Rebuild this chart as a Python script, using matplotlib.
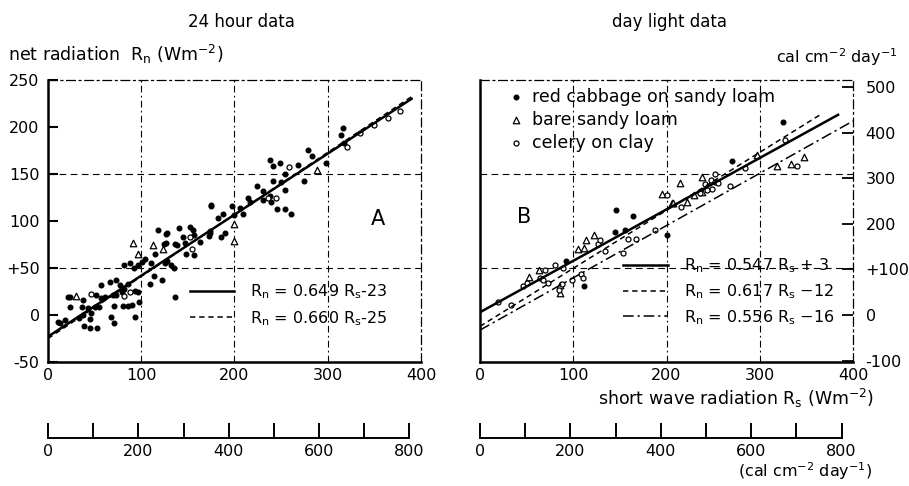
import numpy as np
import matplotlib
matplotlib.use("Agg")
import matplotlib.pyplot as plt

plt.rcParams['font.family'] = ['DejaVu Sans']
plt.rcParams['mathtext.default'] = 'regular'

W2CAL = 86400 / 41868.0  # W m-2 -> cal cm-2 day-1

# ---------------- data: 24 hour data (left panel) ----------------
left_filled_rs = [175, 118, 128, 141, 152, 127, 138, 147, 157, 163, 174, 148, 157, 115, 104,
                  101, 82, 88, 92, 97, 111, 125, 128, 132, 135, 114, 109, 122, 136, 57,
                  66, 73, 77, 86, 82, 79, 93, 97, 21, 24, 38, 52, 57, 61, 70,
                  73, 24, 36, 43, 50, 55, 71, 80, 86, 90, 98, 46, 38, 68, 93,
                  45, 71, 13, 39, 45, 53, 33, 11, 18,
                  316, 314, 317, 279, 283, 298, 275, 268, 254, 238, 241, 249, 241, 250, 254,
                  238, 231, 224, 231, 239, 246, 254, 261, 215, 217, 206, 209, 197, 175, 188,
                  200, 182, 190, 186, 174, 173, 155, 145, 127, 124, 136]
left_filled_rn = [117, 90, 87, 93, 94, 77, 75, 77, 85, 78, 89, 65, 64, 65, 60,
                  56, 53, 55, 50, 53, 55, 55, 58, 53, 50, 42, 33, 37, 19, 32,
                  35, 37, 32, 33, 28, 25, 26, 24, 19, 19, 16, 21, 18, 19, 21,
                  21, 9, 9, 7, 9, 9, 10, 10, 10, 11, 14, 2, 0, -2, -2,
                  -4, -9, -9, -12, -14, -14, -3, -7, -5,
                  199, 192, 183, 176, 169, 162, 143, 160, 150, 165, 159, 162, 143, 142, 133,
                  127, 132, 137, 122, 120, 113, 113, 107, 124, 120, 114, 108, 116, 116, 108,
                  106, 103, 87, 83, 87, 84, 90, 83, 86, 76, 76]
left_open_rs = [46, 88, 82, 154, 152, 259, 245, 236, 321, 335, 350, 365, 378]
left_open_rn = [22, 25, 20, 70, 83, 158, 125, 125, 179, 194, 202, 210, 217]
left_tri_rs = [91, 113, 123, 97, 30, 200, 200, 288]
left_tri_rn = [77, 75, 70, 65, 20, 97, 79, 154]

left_fit_labels = ['R$_n$ = 0.649 R$_s$-23', 'R$_n$ = 0.660 R$_s$-25']
left_fit_slope = [0.649, 0.660]
left_fit_icpt = [-23, -25]
left_fit_end = [390, 390]

# ---------------- data: day light data (right panel) ----------------
series_labels = ['red cabbage on sandy loam', 'bare sandy loam', 'celery on clay']
right_cabbage_rs = [92, 111, 146, 145, 156, 164, 201, 270, 325]
right_cabbage_rn = [58, 31, 112, 88, 90, 105, 85, 164, 205]
right_bare_rs = [53, 63, 86, 86, 105, 112, 114, 122, 195, 206, 214, 297, 318, 334, 347,
                 238, 238, 229, 222, 207]
right_bare_rn = [40, 48, 32, 23, 70, 71, 80, 85, 129, 119, 140, 170, 159, 161, 168,
                 147, 131, 128, 120, 119]
right_celery_rs = [19, 33, 46, 50, 64, 68, 70, 73, 80, 89, 85, 99, 108, 110, 126,
                   129, 134, 88, 153, 159, 167, 188, 200, 268, 284, 327, 340, 252, 248, 252,
                   255, 241, 249, 243, 236, 215]
right_celery_rn = [14, 11, 31, 34, 39, 37, 48, 34, 53, 50, 27, 37, 44, 39, 76,
                   80, 68, 33, 66, 81, 81, 90, 128, 137, 156, 186, 159, 150, 144, 141,
                   140, 139, 134, 133, 130, 115]

right_fit_labels = ['R$_n$ = 0.547 R$_s$ + 3', 'R$_n$ = 0.617 R$_s$ $-$12', 'R$_n$ = 0.556 R$_s$ $-$16']
right_fit_slope = [0.547, 0.617, 0.556]
right_fit_icpt = [3, -12, -16]
right_fit_end = [384, 367, 400]

x_ticks = [0, 100, 200, 300, 400]
left_y_ticks = [-50, 0, 50, 100, 150, 200, 250]
left_y_labels = ['-50', '0', '+50', '100', '150', '200', '250']
cal_y_ticks = [-100, 0, 100, 200, 300, 400, 500]
cal_y_labels = ['-100', '0', '+100', '200', '300', '400', '500']
cal_x_ticks = [0, 200, 400, 600, 800]
cal_x_minor = [100, 300, 500, 700]

# ---------------- figure ----------------
FS = 11.5
FL = 12.5
fig = plt.figure(figsize=(9.09, 4.86), dpi=100)
axL = fig.add_axes([0.0528, 0.2551, 0.4103, 0.5802])
axR = fig.add_axes([0.5281, 0.2551, 0.4103, 0.5802])

fit_styles = ['-', (0, (3.5, 2.5)), (0, (7, 2.5, 1.5, 2.5))]
fit_widths = [1.8, 1.1, 1.1]

for ax in (axL, axR):
    ax.set_xlim(0, 400)
    ax.set_ylim(-50, 250)
    for s in ('left', 'bottom'):
        ax.spines[s].set_linewidth(1.8)
    for s in ('top', 'right'):
        ax.spines[s].set_linewidth(0.9)
        ax.spines[s].set_linestyle((0, (7, 3, 1.5, 3)))
    for v in (100, 200, 300):
        ax.axvline(v, color='k', lw=0.8, ls=(0, (6, 3, 1.5, 3)), zorder=1)
    for h in (50, 150):
        ax.axhline(h, color='k', lw=0.8, ls=(0, (6, 4)), zorder=1)
    ax.set_xticks(x_ticks)
    ax.tick_params(axis='x', length=0, pad=4, labelsize=FS)


def draw_points(ax, filled, opened, tri):
    h1 = ax.scatter(filled[0], filled[1], s=11, c='k', marker='o', zorder=3)
    h2 = ax.scatter(tri[0], tri[1], s=22, facecolors='white', edgecolors='k',
                    linewidths=0.9, marker='^', zorder=3)
    h3 = ax.scatter(opened[0], opened[1], s=13, facecolors='white', edgecolors='k',
                    linewidths=0.9, marker='o', zorder=3)
    return [h1, h2, h3]


def draw_fits(ax, slopes, icpts, ends, labels):
    hs = []
    for i, (m, b, e, lab) in enumerate(zip(slopes, icpts, ends, labels)):
        xs = np.array([0.0, e])
        ln, = ax.plot(xs, m * xs + b, color='k', lw=fit_widths[i], ls=fit_styles[i],
                      label=lab, zorder=4, clip_on=True)
        hs.append(ln)
    return hs

# left panel
draw_points(axL, (left_filled_rs, left_filled_rn), (left_open_rs, left_open_rn),
            (left_tri_rs, left_tri_rn))
hl = draw_fits(axL, left_fit_slope, left_fit_icpt, left_fit_end, left_fit_labels)
axL.set_yticks(left_y_ticks)
axL.set_yticklabels(left_y_labels)
axL.tick_params(axis='y', direction='in', length=7, width=1.5, labelsize=FS, pad=6)
axL.legend(handles=hl, loc='upper left', bbox_to_anchor=(0.38, 0.283), frameon=False,
           fontsize=FS, handlelength=2.8, handletextpad=1.0, labelspacing=0.5,
           borderpad=0, borderaxespad=0)
axL.text(354, 102, 'A', fontsize=15, ha='center', va='center')

# right panel
hp = draw_points(axR, (right_cabbage_rs, right_cabbage_rn), (right_celery_rs, right_celery_rn),
                 (right_bare_rs, right_bare_rn))
hr = draw_fits(axR, right_fit_slope, right_fit_icpt, right_fit_end, right_fit_labels)
axR.set_yticks([])
leg1 = axR.legend(handles=hp, labels=series_labels, loc='upper left',
                  bbox_to_anchor=(0.08, 0.972), frameon=False, fontsize=FL,
                  handlelength=0.7, handletextpad=0.55, labelspacing=0.28,
                  borderpad=0, borderaxespad=0)
axR.add_artist(leg1)
axR.legend(handles=hr, loc='upper left', bbox_to_anchor=(0.383, 0.375), frameon=False,
           fontsize=FS, handlelength=2.8, handletextpad=1.0, labelspacing=0.45,
           borderpad=0, borderaxespad=0)
axR.text(47, 104, 'B', fontsize=15, ha='center', va='center')

axT = axR.twinx()
axT.set_ylim(-50 * W2CAL, 250 * W2CAL)
axT.set_yticks(cal_y_ticks)
axT.set_yticklabels(cal_y_labels)
axT.tick_params(axis='y', direction='in', length=8, width=1.3, labelsize=FS, pad=9)
for s in axT.spines.values():
    s.set_visible(False)

# calorie scales below the panels
for ax in (axL, axR):
    pos = ax.get_position()
    cax = fig.add_axes([pos.x0, 0.0988, pos.width, 0.06])
    cax.set_facecolor('none')
    cax.set_xlim(0, 400 * W2CAL)
    cax.set_ylim(0, 1)
    for s in ('left', 'right', 'top'):
        cax.spines[s].set_visible(False)
    cax.spines['bottom'].set_linewidth(1.4)
    cax.spines['bottom'].set_bounds(0, 800)
    cax.set_xticks(cal_x_ticks)
    cax.set_xticks(cal_x_minor, minor=True)
    cax.set_yticks([])
    cax.tick_params(axis='x', which='both', direction='in', length=11, width=1.4,
                    labelsize=FS, pad=4)

# texts
fig.text(0.266, 0.955, '24 hour data', fontsize=12, ha='center', va='center')
fig.text(0.736, 0.955, 'day light data', fontsize=12, ha='center', va='center')
fig.text(0.009, 0.887, 'net radiation  R$_n$ (Wm$^{-2}$)', fontsize=FL, ha='left', va='center')
fig.text(0.987, 0.883, 'cal cm$^{-2}$ day$^{-1}$', fontsize=FS, ha='right', va='center')
fig.text(0.962, 0.181, 'short wave radiation R$_s$ (Wm$^{-2}$)', fontsize=FL,
         ha='right', va='center')
fig.text(0.960, 0.030, '(cal cm$^{-2}$ day$^{-1}$)', fontsize=FS, ha='right', va='center')

fig.savefig('out.png', dpi=100)
